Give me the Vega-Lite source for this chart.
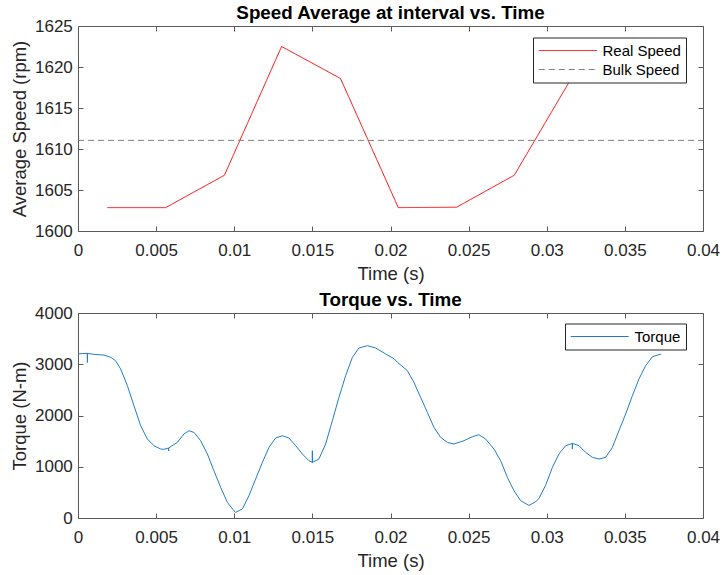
{
  "$schema": "https://vega.github.io/schema/vega-lite/v6.json",
  "background": "white",
  "padding": {"left": 9, "top": 3, "right": 0, "bottom": 0},
  "spacing": 6,
  "resolve": {"scale": {"color": "independent", "strokeDash": "independent"}, "legend": {"color": "independent", "strokeDash": "independent"}},
  "config": {
    "font": "Liberation Sans",
    "view": {"stroke": "#5a5a5a", "strokeWidth": 1},
    "axis": {
      "labelFont": "Liberation Sans",
      "labelFontSize": 17,
      "labelColor": "#262626",
      "titleFont": "Liberation Sans",
      "titleFontSize": 18.5,
      "titleFontWeight": "normal",
      "titleColor": "#262626",
      "tickColor": "#5a5a5a",
      "tickSize": -5,
      "grid": false,
      "domain": false,
      "labelFlush": false,
      "labelOverlap": false,
      "labelBound": false
    },
    "legend": {
      "labelFont": "Liberation Sans",
      "labelFontSize": 15,
      "labelColor": "#000000",
      "fillColor": "white",
      "strokeColor": "#262626",
      "padding": 5,
      "symbolStrokeWidth": 1,
      "symbolType": "M-1,0H7",
      "symbolSize": 210,
      "labelOffset": 48.5,
      "rowPadding": 3
    },
    "title": {"font": "Liberation Sans", "fontSize": 18.8, "fontWeight": "bold", "color": "#000000", "offset": -6, "baseline": "alphabetic", "frame": "group", "anchor": "middle"}
  },
  "vconcat": [
    {
      "width": 625,
      "height": 205,
      "title": {"text": "Speed Average at interval vs. Time"},
      "data": {"values": [
        {"t": 0.00188, "v": 1602.85, "s": "Real Speed"},
        {"t": 0.00561, "v": 1602.85, "s": "Real Speed"},
        {"t": 0.00937, "v": 1606.8, "s": "Real Speed"},
        {"t": 0.01303, "v": 1622.5, "s": "Real Speed"},
        {"t": 0.0168, "v": 1618.6, "s": "Real Speed"},
        {"t": 0.0205, "v": 1602.85, "s": "Real Speed"},
        {"t": 0.02423, "v": 1602.9, "s": "Real Speed"},
        {"t": 0.02792, "v": 1606.8, "s": "Real Speed"},
        {"t": 0.0316, "v": 1618.7, "s": "Real Speed"},
        {"t": 0, "v": 1611.05, "s": "Bulk Speed"},
        {"t": 0.04, "v": 1611.05, "s": "Bulk Speed"}
      ]},
      "layer": [
        {
          "mark": {"type": "line", "strokeWidth": 1},
          "encoding": {
            "x": {"field": "t", "type": "quantitative", "scale": {"domain": [0, 0.04], "nice": false, "zero": false},
              "axis": {"orient": "bottom", "values": [0, 0.005, 0.01, 0.015, 0.02, 0.025, 0.03, 0.035, 0.04], "format": "~g", "title": "Time (s)", "labelPadding": 16, "titleBaseline": "alphabetic", "titleY": 48.5}},
            "y": {"field": "v", "type": "quantitative", "scale": {"domain": [1600, 1625], "nice": false, "zero": false},
              "axis": {"orient": "left", "values": [1600, 1605, 1610, 1615, 1620, 1625], "format": "d", "title": "Average Speed (rpm)", "labelPadding": 10.7, "titleX": -52.7, "titleY": 102.5, "titleBaseline": "alphabetic"}},
            "color": {"field": "s", "type": "nominal", "scale": {"domain": ["Real Speed", "Bulk Speed"], "range": ["#ff0000", "#808080"]},
              "legend": {"title": null, "orient": "none", "legendX": 455, "legendY": 11.5}},
            "strokeDash": {"field": "s", "type": "nominal", "scale": {"domain": ["Real Speed", "Bulk Speed"], "range": [[1, 0], [6, 4]]},
              "legend": {"title": null, "orient": "none", "legendX": 455, "legendY": 11.5}}
          }
        },
        {
          "mark": {"type": "line", "strokeOpacity": 0},
          "encoding": {
            "x": {"field": "t", "type": "quantitative", "scale": {"domain": [0, 0.04], "nice": false, "zero": false},
              "axis": {"orient": "top", "values": [0, 0.005, 0.01, 0.015, 0.02, 0.025, 0.03, 0.035, 0.04], "labels": false, "title": null}},
            "y": {"field": "v", "type": "quantitative", "scale": {"domain": [1600, 1625], "nice": false, "zero": false},
              "axis": {"orient": "right", "values": [1600, 1605, 1610, 1615, 1620, 1625], "labels": false, "title": null}}
          }
        }
      ],
      "resolve": {"axis": {"x": "independent", "y": "independent"}}
    },
    {
      "width": 625,
      "height": 205,
      "title": {"text": "Torque vs. Time"},
      "data": {"values": [
        {"i": 1, "t": 0, "v": 3200, "s": "Torque"},
        {"i": 2, "t": 0.0003, "v": 3210, "s": "Torque"},
        {"i": 3, "t": 0.0006, "v": 3212, "s": "Torque"},
        {"i": 4, "t": 0.0006, "v": 3036, "s": "Torque"},
        {"i": 5, "t": 0.0006, "v": 3212, "s": "Torque"},
        {"i": 6, "t": 0.0011, "v": 3190, "s": "Torque"},
        {"i": 7, "t": 0.00166, "v": 3180, "s": "Torque"},
        {"i": 8, "t": 0.0021, "v": 3134, "s": "Torque"},
        {"i": 9, "t": 0.0024, "v": 3070, "s": "Torque"},
        {"i": 10, "t": 0.00273, "v": 2907, "s": "Torque"},
        {"i": 11, "t": 0.00316, "v": 2581, "s": "Torque"},
        {"i": 12, "t": 0.00358, "v": 2191, "s": "Torque"},
        {"i": 13, "t": 0.00401, "v": 1801, "s": "Torque"},
        {"i": 14, "t": 0.00444, "v": 1541, "s": "Torque"},
        {"i": 15, "t": 0.00486, "v": 1411, "s": "Torque"},
        {"i": 16, "t": 0.00529, "v": 1346, "s": "Torque"},
        {"i": 17, "t": 0.0055, "v": 1340, "s": "Torque"},
        {"i": 18, "t": 0.0058, "v": 1366, "s": "Torque"},
        {"i": 19, "t": 0.0058, "v": 1310, "s": "Torque"},
        {"i": 20, "t": 0.0058, "v": 1366, "s": "Torque"},
        {"i": 21, "t": 0.00636, "v": 1475, "s": "Torque"},
        {"i": 22, "t": 0.00678, "v": 1639, "s": "Torque"},
        {"i": 23, "t": 0.0071, "v": 1703, "s": "Torque"},
        {"i": 24, "t": 0.00742, "v": 1670, "s": "Torque"},
        {"i": 25, "t": 0.00785, "v": 1508, "s": "Torque"},
        {"i": 26, "t": 0.00828, "v": 1249, "s": "Torque"},
        {"i": 27, "t": 0.0087, "v": 923, "s": "Torque"},
        {"i": 28, "t": 0.00913, "v": 597, "s": "Torque"},
        {"i": 29, "t": 0.00956, "v": 304, "s": "Torque"},
        {"i": 30, "t": 0.00998, "v": 142, "s": "Torque"},
        {"i": 31, "t": 0.01009, "v": 110, "s": "Torque"},
        {"i": 32, "t": 0.01052, "v": 176, "s": "Torque"},
        {"i": 33, "t": 0.01094, "v": 435, "s": "Torque"},
        {"i": 34, "t": 0.01137, "v": 761, "s": "Torque"},
        {"i": 35, "t": 0.0118, "v": 1085, "s": "Torque"},
        {"i": 36, "t": 0.01222, "v": 1378, "s": "Torque"},
        {"i": 37, "t": 0.01265, "v": 1561, "s": "Torque"},
        {"i": 38, "t": 0.01308, "v": 1606, "s": "Torque"},
        {"i": 39, "t": 0.0135, "v": 1561, "s": "Torque"},
        {"i": 40, "t": 0.01393, "v": 1411, "s": "Torque"},
        {"i": 41, "t": 0.01436, "v": 1249, "s": "Torque"},
        {"i": 42, "t": 0.01478, "v": 1118, "s": "Torque"},
        {"i": 43, "t": 0.015, "v": 1085, "s": "Torque"},
        {"i": 44, "t": 0.015, "v": 1313, "s": "Torque"},
        {"i": 45, "t": 0.015, "v": 1085, "s": "Torque"},
        {"i": 46, "t": 0.01542, "v": 1151, "s": "Torque"},
        {"i": 47, "t": 0.01585, "v": 1444, "s": "Torque"},
        {"i": 48, "t": 0.01628, "v": 1899, "s": "Torque"},
        {"i": 49, "t": 0.0167, "v": 2353, "s": "Torque"},
        {"i": 50, "t": 0.01713, "v": 2777, "s": "Torque"},
        {"i": 51, "t": 0.01756, "v": 3134, "s": "Torque"},
        {"i": 52, "t": 0.01798, "v": 3317, "s": "Torque"},
        {"i": 53, "t": 0.01852, "v": 3362, "s": "Torque"},
        {"i": 54, "t": 0.01905, "v": 3317, "s": "Torque"},
        {"i": 55, "t": 0.01969, "v": 3200, "s": "Torque"},
        {"i": 56, "t": 0.02022, "v": 3110, "s": "Torque"},
        {"i": 57, "t": 0.02044, "v": 3040, "s": "Torque"},
        {"i": 58, "t": 0.02108, "v": 2874, "s": "Torque"},
        {"i": 59, "t": 0.0215, "v": 2646, "s": "Torque"},
        {"i": 60, "t": 0.02193, "v": 2353, "s": "Torque"},
        {"i": 61, "t": 0.02236, "v": 2060, "s": "Torque"},
        {"i": 62, "t": 0.02278, "v": 1768, "s": "Torque"},
        {"i": 63, "t": 0.02321, "v": 1573, "s": "Torque"},
        {"i": 64, "t": 0.02364, "v": 1475, "s": "Torque"},
        {"i": 65, "t": 0.02406, "v": 1444, "s": "Torque"},
        {"i": 66, "t": 0.0247, "v": 1508, "s": "Torque"},
        {"i": 67, "t": 0.02524, "v": 1586, "s": "Torque"},
        {"i": 68, "t": 0.02566, "v": 1625, "s": "Torque"},
        {"i": 69, "t": 0.02609, "v": 1541, "s": "Torque"},
        {"i": 70, "t": 0.02662, "v": 1346, "s": "Torque"},
        {"i": 71, "t": 0.02705, "v": 1118, "s": "Torque"},
        {"i": 72, "t": 0.02748, "v": 792, "s": "Torque"},
        {"i": 73, "t": 0.0279, "v": 533, "s": "Torque"},
        {"i": 74, "t": 0.02833, "v": 338, "s": "Torque"},
        {"i": 75, "t": 0.02886, "v": 245, "s": "Torque"},
        {"i": 76, "t": 0.0293, "v": 320, "s": "Torque"},
        {"i": 77, "t": 0.0295, "v": 380, "s": "Torque"},
        {"i": 78, "t": 0.02993, "v": 640, "s": "Torque"},
        {"i": 79, "t": 0.03036, "v": 987, "s": "Torque"},
        {"i": 80, "t": 0.03078, "v": 1249, "s": "Torque"},
        {"i": 81, "t": 0.03121, "v": 1411, "s": "Torque"},
        {"i": 82, "t": 0.03164, "v": 1456, "s": "Torque"},
        {"i": 83, "t": 0.03164, "v": 1346, "s": "Torque"},
        {"i": 84, "t": 0.03164, "v": 1456, "s": "Torque"},
        {"i": 85, "t": 0.03206, "v": 1411, "s": "Torque"},
        {"i": 86, "t": 0.03249, "v": 1280, "s": "Torque"},
        {"i": 87, "t": 0.03292, "v": 1183, "s": "Torque"},
        {"i": 88, "t": 0.03334, "v": 1151, "s": "Torque"},
        {"i": 89, "t": 0.03377, "v": 1183, "s": "Torque"},
        {"i": 90, "t": 0.0342, "v": 1378, "s": "Torque"},
        {"i": 91, "t": 0.03462, "v": 1703, "s": "Torque"},
        {"i": 92, "t": 0.03505, "v": 2029, "s": "Torque"},
        {"i": 93, "t": 0.03548, "v": 2386, "s": "Torque"},
        {"i": 94, "t": 0.0359, "v": 2712, "s": "Torque"},
        {"i": 95, "t": 0.03633, "v": 2972, "s": "Torque"},
        {"i": 96, "t": 0.03676, "v": 3147, "s": "Torque"},
        {"i": 97, "t": 0.03732, "v": 3200, "s": "Torque"}
      ]},
      "layer": [
        {
          "mark": {"type": "line", "strokeWidth": 1},
          "encoding": {
            "x": {"field": "t", "type": "quantitative", "scale": {"domain": [0, 0.04], "nice": false, "zero": false},
              "axis": {"orient": "bottom", "values": [0, 0.005, 0.01, 0.015, 0.02, 0.025, 0.03, 0.035, 0.04], "format": "~g", "title": "Time (s)", "labelPadding": 16, "titleBaseline": "alphabetic", "titleY": 48.5}},
            "y": {"field": "v", "type": "quantitative", "scale": {"domain": [0, 4000], "nice": false},
              "axis": {"orient": "left", "values": [0, 1000, 2000, 3000, 4000], "format": "d", "title": "Torque (N-m)", "labelPadding": 10.7, "titleX": -52.7, "titleY": 102.5, "titleBaseline": "alphabetic"}},
            "order": {"field": "i", "type": "quantitative"},
            "color": {"field": "s", "type": "nominal", "scale": {"domain": ["Torque"], "range": ["#1f7ec8"]},
              "legend": {"title": null, "orient": "none", "legendX": 487, "legendY": 10.5}}
          }
        },
        {
          "mark": {"type": "line", "strokeOpacity": 0},
          "encoding": {
            "x": {"field": "t", "type": "quantitative", "scale": {"domain": [0, 0.04], "nice": false, "zero": false},
              "axis": {"orient": "top", "values": [0, 0.005, 0.01, 0.015, 0.02, 0.025, 0.03, 0.035, 0.04], "labels": false, "title": null}},
            "y": {"field": "v", "type": "quantitative", "scale": {"domain": [0, 4000], "nice": false},
              "axis": {"orient": "right", "values": [0, 1000, 2000, 3000, 4000], "labels": false, "title": null}},
            "order": {"field": "i", "type": "quantitative"}
          }
        }
      ],
      "resolve": {"axis": {"x": "independent", "y": "independent"}}
    }
  ]
}
